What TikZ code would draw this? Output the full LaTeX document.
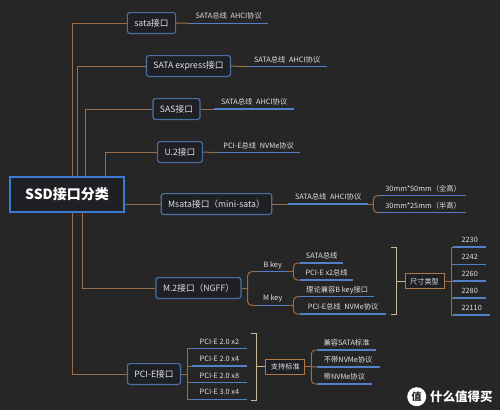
\documentclass[tikz,border=0pt]{standalone}
\usepackage{fontspec}
\setmainfont{Noto Sans CJK SC}
\usetikzlibrary{calc}
\definecolor{bg}{HTML}{262626}
\definecolor{boxbg}{HTML}{1E2023}
\definecolor{boxline}{HTML}{4A70A6}
\definecolor{rootline}{HTML}{3C7BD4}
\definecolor{branch}{HTML}{9A6C48}
\definecolor{uline}{HTML}{4F80C8}
\definecolor{brk}{HTML}{C8BC94}
\definecolor{txt}{HTML}{E2E2E2}
\definecolor{tagline}{HTML}{B07A45}

\begin{document}
\begin{tikzpicture}[x=1pt,y=-1pt,
  root/.style={draw=rootline,line width=2.4pt,fill=boxbg,minimum width=113.5pt,
               minimum height=34.5pt,text=white,font=\fontsize{14}{15}\selectfont\bfseries},
  box/.style={draw=boxline,line width=1.2pt,fill=boxbg,rounded corners=2.5pt,
              minimum height=20.8pt,inner xsep=7pt,text=txt,font=\fontsize{8.7}{10}\selectfont},
  tag/.style={draw=tagline,line width=1pt,fill=boxbg,minimum height=15pt,minimum width=39pt,
              inner xsep=3pt,text=txt,font=\fontsize{7.2}{8}\selectfont},
  leaf/.style={anchor=south west,inner xsep=0pt,inner ysep=3.3pt,text height=6pt,text depth=1pt,
               text=txt,font=\fontsize{7.3}{8}\selectfont,
               append after command={(\tikzlastnode.south west) edge[draw=uline,line width=1.5pt] (\tikzlastnode.south east)}},
  conn/.style={draw=branch,line width=1pt},
  brace/.style={conn,rounded corners=4pt},
  bracket/.style={draw=brk,line width=1pt}
]
\fill[bg] (0,0) rectangle (500,410);
\useasboundingbox (0,0) rectangle (500,410);

% main branches
\node[root] (ssd) at (67,194.5) {SSD接口分类};
\node[box] (sata) at (151.5,23) {sata接口};
\node[box] (satae) at (188.5,66) {SATA express接口};
\node[box] (sas) at (176.5,109) {SAS接口};
\node[box] (u2) at (180,152) {U.2接口};
\node[box] (msata) at (216.5,204) {Msata接口（mini-sata）};
\node[box] (m2) at (198.5,288) {M.2接口（NGFF）};
\node[box] (pcie) at (154,374) {PCI-E接口};

\draw[conn] ([xshift=5.7]ssd.north) |- (sata.west);
\draw[conn] ([xshift=10.7]ssd.north) |- (satae.west);
\draw[conn] ([xshift=18]ssd.north) |- (sas.west);
\draw[conn] ([xshift=38.7]ssd.north) |- (u2.west);
\draw[conn] (ssd.east |- msata.west) -- (msata.west);
\draw[conn] ([xshift=15.7]ssd.south) |- (m2.west);
\draw[conn] ([xshift=5.7]ssd.south) |- (pcie.west);

% bus / protocol
\node[leaf,minimum width=79] (satab) at (189,23.3) {SATA总线\enspace AHCI协议};
\node[leaf,minimum width=80] (sataeb) at (247,66.7) {SATA总线\enspace AHCI协议};
\node[leaf,minimum width=80] (sasb) at (214,109) {SATA总线\enspace AHCI协议};
\node[leaf,minimum width=83] (u2b) at (217,152.7) {PCI-E总线\enspace NVMe协议};
\node[leaf,minimum width=80] (msatab) at (288,204) {SATA总线\enspace AHCI协议};
\draw[conn] (sata.east) -- (satab.south west);
\draw[conn] (satae.east) -- (sataeb.south west);
\draw[conn] (sas.east) -- (sasb.south west);
\draw[conn] (u2.east) -- (u2b.south west);
\draw[conn] (msata.east) -- (msatab.south west);

% msata sizes
\node[leaf,minimum width=86] (full) at (380,195.7) {30mm*50mm（全高）};
\node[leaf,minimum width=86] (half) at (380,212.7) {30mm*25mm（半高）};
\draw[conn] (msatab.south east) -- ++(5,0) coordinate (msj);
\draw[brace] (full.south west) -| (msj) |- (half.south west);

% M.2 keys
\draw[conn] (m2.east) -- ++(6,0) coordinate (m2j);
\node[leaf,minimum width=31] (bkey) at (257,271.7) {B key};
\node[leaf,minimum width=31] (mkey) at (257,305.3) {M key};
\draw[brace] (bkey.south west) -| (m2j) |- (mkey.south west);

\node[leaf,minimum width=43] (bsata) at (300,263) {SATA总线};
\node[leaf,minimum width=53] (bpci) at (300,280) {PCI-E x2总线};
\draw[conn] (bkey.south east) -- ++(5,0) coordinate (bj);
\draw[brace] (bsata.south west) -| (bj) |- (bpci.south west);

\node[leaf,minimum width=74] (mcomp) at (300,296.7) {理论兼容B key接口};
\node[leaf,minimum width=86] (mnvme) at (300,314) {PCI-E总线\enspace NVMe协议};
\draw[conn] (mkey.south east) -- ++(5,0) coordinate (mj);
\draw[brace] (mcomp.south west) -| (mj) |- (mnvme.south west);

% M.2 form factors
\draw[bracket] (390.7,247) -| (396,314.7) -- (390.7,314.7);
\coordinate (m2b) at (396,281.3);
\node[tag] (size) at (424.5,281.3) {尺寸类型};
\draw[bracket] (m2b) -- (size.west);
\draw[conn] (size.east) -- ++(6.5,0) coordinate (sj);
\foreach \n/\y/\w in {2230/247/33, 2242/264.3/33, 2260/281/33, 2280/298/33, 22110/315/37}{
  \node[leaf,minimum width=\w] (s\n) at (453,\y) {\n};
  \draw[conn] (sj) |- (s\n.south west);
}

% PCI-E lanes
\draw[conn] (pcie.east) -- ++(6.3,0) coordinate (pj);
\foreach \i/\t/\y in {1/PCI-E 2.0 x2/348.7, 2/PCI-E 2.0 x4/366, 3/PCI-E 2.0 x8/382.7, 4/PCI-E 3.0 x4/399.3}{
  \node[leaf,minimum width=55] (p\i) at (191.7,\y) {\t};
  \draw[conn] (pj) |- (p\i.south west);
}
\draw[bracket] (250.7,333.3) -| (256.7,400) -- (250.7,400);
\coordinate (pb) at (256.7,366.7);
\node[tag] (std) at (285.3,366.7) {支持标准};
\draw[bracket] (pb) -- (std.west);

\node[leaf,minimum width=59.3] (c1) at (316.7,350) {兼容SATA标准};
\node[leaf,minimum width=62.6] (c2) at (316.7,367) {不带NVMe协议};
\node[leaf,minimum width=55] (c3) at (316.7,384) {带NVMe协议};
\draw[conn] (std.east) -- ++(6,0) coordinate (stj);
\draw[brace] (c1.south west) -| (stj) |- (c3.south west);
\draw[conn] (stj) -- (c2.south west);

% watermark
\node[circle,fill=white,minimum size=19pt,inner sep=0pt,text=bg,
      font=\fontsize{10}{10}\selectfont\bfseries] (wmlogo) at (416.7,396.7) {值};
\node[anchor=west,inner sep=0pt,text=white,font=\fontsize{12.5}{13}\selectfont\bfseries]
     (wmtext) at (430,396.7) {什么值得买};
\end{tikzpicture}
\end{document}
